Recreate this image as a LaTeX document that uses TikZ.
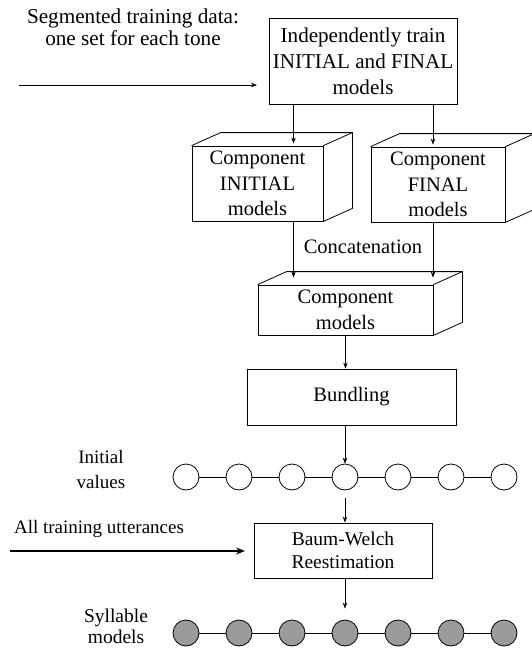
\documentclass[tikz,border=0pt]{standalone}
\usepackage{fontspec}
\setmainfont{Liberation Serif}
\usetikzlibrary{arrows.meta,calc}
\definecolor{nodegray}{RGB}{155,155,155}
\newcommand\drawcube[1]{%
  \draw[thinline] (#1.north west) -- ++(29,-13) -| ($(#1.south east)+(29,-13)$) -- (#1.south east);
  \draw[thinline] (#1.north east) -- ++(29,-13);}
\begin{document}
\begin{tikzpicture}[x=1pt,y=-1pt,
  thinline/.style={line width=0.8pt},
  box/.style={draw, thinline, rectangle, inner sep=0pt, align=center,
    font=\fontsize{20.5}{25.5}\selectfont},
  lbl/.style={align=center, inner sep=0pt, font=\fontsize{19.5}{24}\selectfont},
  arr/.style={thinline, -{Stealth[length=6pt,width=4.5pt]}},
  thickarr/.style={line width=2.2pt, -{Stealth[length=9pt,width=7pt]}},
  state/.style={circle, draw, thinline, minimum size=26pt, inner sep=0pt},
  filled/.style={state, fill=nodegray}]
\useasboundingbox (0,0) rectangle (531,654);

% top-left label and arrow
\node[lbl, font=\fontsize{21.2}{22}\selectfont] (seg) at (133,27) {Segmented training data:\\one set for each tone};
\coordinate (segA) at (19,85);
\coordinate (segB) at (257,85);
\draw[arr] (segA) -- (segB);

% top box
\node[box, minimum width=188pt, minimum height=86pt, font=\fontsize{21.1}{26}\selectfont] (train) at (363,61)
  {Independently train\\INITIAL and FINAL\\models};

% component boxes
\node[box, minimum width=131pt, minimum height=75pt] (cinit) at (257.5,183.5)
  {Component\\INITIAL\\models};
\drawcube{cinit}
\node[box, minimum width=134pt, minimum height=75pt] (cfin) at (438,184.5)
  {Component\\FINAL\\models};
\drawcube{cfin}

\coordinate (xL) at (293.5,0);
\coordinate (xR) at (433,0);
\draw[arr] (train.south -| xL) -- ($(cinit.north -| xL)+(0,-2)$);
\draw[arr] (train.south -| xR) -- ($(cfin.north -| xR)+(0,-2)$);

% concatenation
\node[box, minimum width=175pt, minimum height=50pt] (comp) at (345.5,310)
  {Component\\models};
\drawcube{comp}
\node[lbl, font=\fontsize{20.5}{24}\selectfont, anchor=base] (concat) at (363,253) {Concatenation};
\draw[arr] (cinit.south -| xL) -- ($(comp.north -| xL)+(0,-7)$);
\draw[arr] (cfin.south -| xR) -- ($(comp.north -| xR)+(0,-7)$);

% bundling
\node[box, minimum width=209pt, minimum height=56pt] (bund) at (351.5,397) {Bundling};
\draw[arr] (comp.south) -- (comp.south |- bund.north);

% initial values row
\foreach \i in {1,...,7} {
  \node[state] (c\i) at ({186+53*(\i-1)},477) {};
}
\foreach \i/\j in {1/2,2/3,3/4,4/5,5/6,6/7} {
  \draw[thinline] (c\i) -- (c\j);
}
\node[lbl, font=\fontsize{19}{25}\selectfont] (initv) at (101,469) {Initial\\values};
\draw[arr] (bund.south -| c4) -- (c4.north);

% Baum-Welch
\node[box, minimum width=178pt, minimum height=55pt, font=\fontsize{19.5}{22.5}\selectfont] (bw) at (343,550.5)
  {Baum-Welch\\Reestimation};
\draw[arr] ($(c4.south)+(0,8)$) -- (bw.north -| c4);

\node[lbl, font=\fontsize{19}{24}\selectfont, anchor=base] (allu) at (99,533) {All training utterances};
\coordinate (allA) at (10,551);
\coordinate (allB) at (245,551);
\draw[thickarr] (allA) -- (allB);

% syllable models row
\foreach \i in {1,...,7} {
  \node[filled] (d\i) at ({186+53*(\i-1)},633) {};
}
\foreach \i/\j in {1/2,2/3,3/4,4/5,5/6,6/7} {
  \draw[thinline] (d\i) -- (d\j);
}
\node[lbl, font=\fontsize{19.5}{21}\selectfont] (syl) at (116,626) {Syllable\\models};
\draw[arr] (bw.south -| d4) -- ($(d4.north)+(0,-11)$);
\end{tikzpicture}
\end{document}
